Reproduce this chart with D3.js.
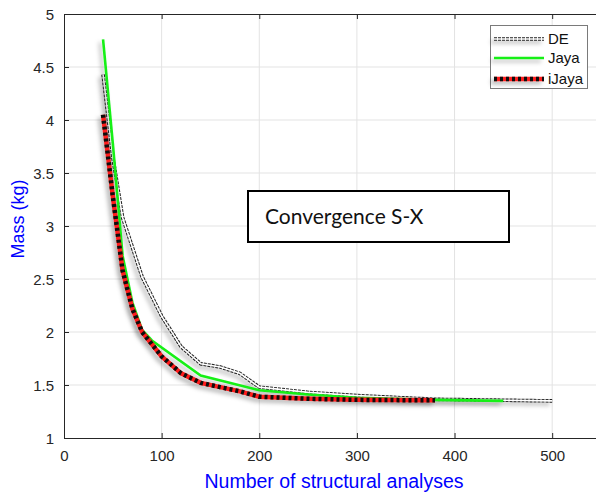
<!DOCTYPE html>
<html><head><meta charset="utf-8">
<script src="https://cdn.jsdelivr.net/npm/d3@7"></script>
<style>body{margin:0;background:#fff}svg{display:block}</style>
</head><body>
<svg id="c" width="596" height="492"></svg>
<script>
const deX   = [40, 50, 60, 80, 100, 120, 140, 160, 180, 200, 250, 300, 380, 500];
const deY   = [4.43, 3.65, 3.08, 2.52, 2.15, 1.86, 1.70, 1.67, 1.61, 1.48, 1.43, 1.40, 1.365, 1.35];
const jayaX = [40, 50, 60, 70, 80, 90, 140, 200, 250, 300, 380, 450];
const jayaY = [4.76, 3.78, 2.72, 2.28, 2.02, 1.92, 1.59, 1.45, 1.41, 1.38, 1.36, 1.35];
const ijX   = [40, 50, 60, 70, 80, 100, 120, 140, 160, 180, 200, 250, 300, 380];
const ijY   = [4.05, 3.28, 2.58, 2.22, 2.0, 1.77, 1.61, 1.52, 1.48, 1.44, 1.39, 1.37, 1.36, 1.355];
const xTicks = [0, 100, 200, 300, 400, 500];
const yTicks = [1, 1.5, 2, 2.5, 3, 3.5, 4, 4.5, 5];
const seriesNames = ["DE", "Jaya", "iJaya"];
const xLabel = "Number of structural analyses";
const yLabel = "Mass (kg)";
const annotation = "Convergence S-X";

const svg = d3.select("#c");
const L = 64, T = 14, B = 438;
const x = d3.scaleLinear().domain([0, 550]).range([L, L + 537]);
const y = d3.scaleLinear().domain([1, 5]).range([B, T]);
const axisCol = "#262626";
const font = "'Liberation Sans', Arial, sans-serif";

const defs = svg.append("defs");
const f = defs.append("filter").attr("id","sh").attr("filterUnits","userSpaceOnUse")
  .attr("x",0).attr("y",0).attr("width",596).attr("height",492);
f.append("feDropShadow").attr("dx",-3).attr("dy",3).attr("stdDeviation",2).attr("flood-color","#000").attr("flood-opacity",0.28);
defs.append("clipPath").attr("id","clip").append("rect").attr("x",L).attr("y",T).attr("width",600).attr("height",B-T);

// grid
const g = svg.append("g");
g.selectAll(".gx").data(xTicks.filter(d=>d>0)).join("line")
  .attr("x1",d=>x(d)).attr("x2",d=>x(d)).attr("y1",T).attr("y2",B)
  .attr("stroke","#e3e3e3").attr("stroke-width",1);
g.selectAll(".gy").data(yTicks.filter(d=>d>1&&d<5)).join("line")
  .attr("x1",L).attr("x2",600).attr("y1",d=>y(d)).attr("y2",d=>y(d))
  .attr("stroke","#e3e3e3").attr("stroke-width",1);

// axes
const xa = svg.append("g").attr("transform",`translate(0,${B})`)
  .call(d3.axisBottom(x).tickValues(xTicks).tickSize(-5).tickPadding(12).tickFormat(d3.format("d")));
const xt = svg.append("g").attr("transform",`translate(0,${T})`)
  .call(d3.axisTop(x).tickValues(xTicks).tickSize(-5).tickFormat(""));
const ya = svg.append("g").attr("transform",`translate(${L},0)`)
  .call(d3.axisLeft(y).tickValues(yTicks).tickSize(-5).tickPadding(10).tickFormat(d=>String(d)));
[xa,xt,ya].forEach(a=>{
  a.select(".domain").attr("stroke",axisCol).attr("stroke-width",1);
  a.selectAll(".tick line").attr("stroke",axisCol);
  a.selectAll("text").attr("fill",axisCol).style("font-family",font).style("font-size","15px");
});
ya.selectAll(".tick text").attr("dy","0.35em");

// series
const lineGen = d3.line().x(d=>x(d[0])).y(d=>y(d[1]));
const plot = svg.append("g").attr("clip-path","url(#clip)");
const deData = deX.map((v,i)=>[v,deY[i]]);
const jData = jayaX.map((v,i)=>[v,jayaY[i]]);
const ijData = ijX.map((v,i)=>[v,ijY[i]]);

const deG = plot.append("g").attr("filter","url(#sh)");
deG.append("path").datum(deData).attr("d",lineGen).attr("fill","none")
  .attr("stroke","#222").attr("stroke-width",3.6).attr("stroke-dasharray","3,1");
deG.append("path").datum(deData).attr("d",lineGen).attr("fill","none")
  .attr("stroke","#fff").attr("stroke-width",1.6);

plot.append("path").datum(jData).attr("d",lineGen).attr("fill","none")
  .attr("stroke","#19f019").attr("stroke-width",2.6).attr("filter","url(#sh)");

const ijG = plot.append("g").attr("filter","url(#sh)");
ijG.append("path").datum(ijData).attr("d",lineGen).attr("fill","none")
  .attr("stroke","#ff1a1a").attr("stroke-width",4.5);
ijG.append("path").datum(ijData).attr("d",lineGen).attr("fill","none")
  .attr("stroke","#111").attr("stroke-width",4.5).attr("stroke-dasharray","3,3");

// axis labels
svg.append("text").attr("x",334).attr("y",488).attr("text-anchor","middle")
  .attr("fill","#0000ff").style("font-family",font).style("font-size","19.5px").text(xLabel);
svg.append("text").attr("transform","translate(24,219) rotate(-90)").attr("text-anchor","middle")
  .attr("fill","#0000ff").style("font-family",font).style("font-size","18px").text(yLabel);

// legend
const lg = svg.append("g");
lg.append("rect").attr("x",490.5).attr("y",25.5).attr("width",97).attr("height",63)
  .attr("fill","#fff").attr("stroke","#7a7a7a").attr("stroke-width",1);
const ly = [39, 58, 79];
const sx1 = 494, sx2 = 544;
const l0 = lg.append("g").attr("filter","url(#sh)");
l0.append("line").attr("x1",sx1).attr("x2",sx2).attr("y1",ly[0]).attr("y2",ly[0])
  .attr("stroke","#222").attr("stroke-width",3.6).attr("stroke-dasharray","3,1");
l0.append("line").attr("x1",sx1).attr("x2",sx2).attr("y1",ly[0]).attr("y2",ly[0])
  .attr("stroke","#fff").attr("stroke-width",1.6);
lg.append("line").attr("x1",sx1).attr("x2",sx2).attr("y1",ly[1]).attr("y2",ly[1])
  .attr("stroke","#19f019").attr("stroke-width",2.6).attr("filter","url(#sh)");
const l2 = lg.append("g").attr("filter","url(#sh)");
l2.append("line").attr("x1",sx1).attr("x2",sx2).attr("y1",ly[2]).attr("y2",ly[2])
  .attr("stroke","#ff1a1a").attr("stroke-width",4.5);
l2.append("line").attr("x1",sx1).attr("x2",sx2).attr("y1",ly[2]).attr("y2",ly[2])
  .attr("stroke","#111").attr("stroke-width",4.5).attr("stroke-dasharray","3,3");
lg.selectAll(".lt").data(seriesNames).join("text")
  .attr("x",548).attr("y",(d,i)=>ly[i]).attr("dy","0.35em")
  .attr("fill","#111").style("font-family",font).style("font-size","15px").text(d=>d);

// annotation box
svg.append("rect").attr("x",248).attr("y",191).attr("width",261).attr("height",51)
  .attr("fill","#fff").attr("stroke","#000").attr("stroke-width",2);
svg.append("text").attr("x",265).attr("y",224).attr("fill","#111")
  .style("font-family","Lato, 'Open Sans', sans-serif").style("font-size","21px").text(annotation);
</script>
</body></html>
